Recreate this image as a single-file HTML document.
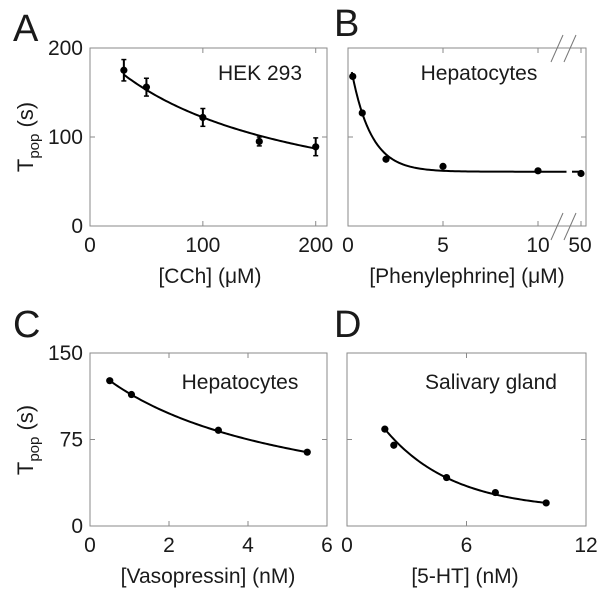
<!DOCTYPE html>
<html><head><meta charset="utf-8">
<style>
body{margin:0;background:#fff;}
svg{display:block;font-family:"Liberation Sans",Arial,sans-serif;}
</style></head>
<body>
<svg id="fig" width="600" height="590" viewBox="0 0 600 590" xmlns="http://www.w3.org/2000/svg"></svg>
<script>
// Panel A data
const aX=[30,50,100,150,200];
const aY=[175,156,122,95,89];
const aErr=[12,10,10,5,10];
const aFit=[204.5,148]; // a/(1+x/K)
const aXTicks=[0,100,200];
const aYTicks=[0,100,200];
// Panel B data
const bX=[0.25,0.75,2,5,10];
const bY=[168,127,75,67,62];
const bXBreak=[50];
const bYBreak=[59];
const bFit=[61,136,1.03]; // a+b*exp(-x/c)
const bXTicks=["0","5","10"];
const bXTickVals=[0,5,10];
// Panel C data
const cX=[0.5,1.05,3.25,5.5];
const cY=[126,114,83,64];
const cFit=[139.5,4.66];
const cXTicks=[0,2,4,6];
const cYTicks=[0,75,150];
// Panel D data
const dX=[1.9,2.35,5,7.45,10];
const dY=[84,70,42,29,20];
const dFit=[13.5,123.3,3.4];
const dXTicks=[0,6,12];

const svg=document.getElementById('fig');
const NS='http://www.w3.org/2000/svg';
function mk(tag,attrs,parent){const e=document.createElementNS(NS,tag);for(const k in attrs)e.setAttribute(k,attrs[k]);(parent||svg).appendChild(e);return e;}
function txt(s,x,y,size,anchor,name,parent){const t=mk('text',{x:x,y:y,'font-size':size,'text-anchor':anchor||'middle',fill:'#1a1a1a'},parent);t.textContent=s;


return t;}
function lin(d0,d1,r0,r1){return v=>r0+(v-d0)*(r1-r0)/(d1-d0);}

function panel(o){
  const g=mk('g',{});
  
  
  const r=mk('rect',{x:o.l,y:o.t,width:o.r-o.l,height:o.b-o.t,fill:'none',stroke:'#8a8a8a','stroke-width':1},g);
  
  
  return g;
}
function ticksX(g,vals,labels,sx,t,b,drawInner){
  vals.forEach((v,i)=>{const x=sx(v);
    if(drawInner){mk('line',{x1:x,x2:x,y1:b,y2:b-5,stroke:'#8a8a8a'},g);mk('line',{x1:x,x2:x,y1:t,y2:t+5,stroke:'#8a8a8a'},g);}
    txt(labels[i],x,b+26,21,'middle','x-tick-label',g);});
}
function ticksY(g,vals,sy,l,r,lblX){
  vals.forEach(v=>{const y=sy(v);
    mk('line',{x1:l,x2:l+5,y1:y,y2:y,stroke:'#8a8a8a'},g);mk('line',{x1:r,x2:r-5,y1:y,y2:y,stroke:'#8a8a8a'},g);
    if(lblX)txt(String(v),lblX,y+7,21,'end','y-tick-label',g);});
}
function curve(g,f,x0,x1,sx,sy,name){
  let d='';for(let i=0;i<=100;i++){const x=x0+(x1-x0)*i/100;d+=(i?'L':'M')+sx(x).toFixed(2)+','+sy(f(x)).toFixed(2);}
  const p=mk('path',{d:d,fill:'none',stroke:'#000','stroke-width':2},g);
  
  
}
function dots(g,xs,ys,sx,sy){
  xs.forEach((x,i)=>{const c=mk('circle',{cx:sx(x),cy:sy(ys[i]),r:3.6,fill:'#000'},g);
  
  });
}
function yTitle(x,y){
  const t=mk('text',{transform:`translate(${x},${y}) rotate(-90)`,'font-size':22,'text-anchor':'middle',fill:'#1a1a1a'});
  
  
  t.innerHTML='T<tspan font-size="15" dy="6">pop</tspan><tspan dy="-6"> (s)</tspan>';
}

// ---- Panel A
{const L=90,R=327,T=48,B=226;const g=panel({name:'panel-a',l:L,r:R,t:T,b:B});
 const sx=lin(0,210,L,R), sy=lin(0,200,B,T);
 ticksX(g,aXTicks,aXTicks.map(String),sx,T,B,true);ticksY(g,aYTicks,sy,L,R,83);
 curve(g,x=>aFit[0]/(1+x/aFit[1]),aX[0],aX[aX.length-1],sx,sy,'fit-curve-a');
 aX.forEach((x,i)=>{const px=sx(x);mk('line',{x1:px,x2:px,y1:sy(aY[i]+aErr[i]),y2:sy(aY[i]-aErr[i]),stroke:'#000','stroke-width':2},g);
   mk('line',{x1:px-2.5,x2:px+2.5,y1:sy(aY[i]+aErr[i]),y2:sy(aY[i]+aErr[i]),stroke:'#000','stroke-width':1.5},g);
   mk('line',{x1:px-2.5,x2:px+2.5,y1:sy(aY[i]-aErr[i]),y2:sy(aY[i]-aErr[i]),stroke:'#000','stroke-width':1.5},g);});
 dots(g,aX,aY,sx,sy);
 txt('HEK 293',260,80,21,'middle','cell-type-label',g);
 txt('[CCh] (\u03bcM)',210,283,21,'middle','x-axis-title',g);
 txt('A',13,41,38,'start','panel-label-a',g);
 yTitle(33,137);
}
// ---- Panel B
{const L=348,R=586,T=48,B=226;const g=panel({name:'panel-b',l:L,r:R,t:T,b:B});
 const sx=lin(0,10,L,538), sy=lin(0,200,B,T);
 const sxb=lin(48,50,572,581);
 ticksX(g,bXTickVals,bXTicks,sx,T,B,true);
 mk('line',{x1:581,x2:581,y1:B,y2:B-5,stroke:'#8a8a8a'},g);mk('line',{x1:581,x2:581,y1:T,y2:T+5,stroke:'#8a8a8a'},g);
 txt('50',580,B+26,21,'middle','x-tick-label',g);
 ticksY(g,[0,100,200],sy,L,R,null);
 curve(g,x=>bFit[0]+bFit[1]*Math.exp(-x/bFit[2]),0.2,11.5,sx,sy,'fit-curve-b');
 curve(g,x=>bFit[0],48,49.6,sxb,sy,'fit-curve-b-after-break');
 dots(g,bX,bY,sx,sy);dots(g,bXBreak,bYBreak,sxb,sy);
 [[551,62,563,35],[564,62,576,35],[551,240,563,213],[564,240,576,213]].forEach(s=>{
   const ln=mk('line',{x1:s[0],y1:s[1],x2:s[2],y2:s[3],stroke:'#777','stroke-width':1},g);
   
   });
 txt('Hepatocytes',479,80,21,'middle','cell-type-label',g);
 txt('[Phenylephrine] (\u03bcM)',467,283,21,'middle','x-axis-title',g);
 txt('B',334,36,38,'start','panel-label-b',g);
}
// ---- Panel C
{const L=90,R=327,T=353,B=526;const g=panel({name:'panel-c',l:L,r:R,t:T,b:B});
 const sx=lin(0,6,L,R), sy=lin(0,150,B,T);
 ticksX(g,cXTicks,cXTicks.map(String),sx,T,B,true);ticksY(g,cYTicks,sy,L,R,83);
 curve(g,x=>cFit[0]/(1+x/cFit[1]),cX[0],cX[cX.length-1],sx,sy,'fit-curve-c');
 dots(g,cX,cY,sx,sy);
 txt('Hepatocytes',240,389,21,'middle','cell-type-label',g);
 txt('[Vasopressin] (nM)',208,583,21,'middle','x-axis-title',g);
 txt('C',13,337,38,'start','panel-label-c',g);
 yTitle(33,440);
}
// ---- Panel D
{const L=347,R=586,T=353,B=526;const g=panel({name:'panel-d',l:L,r:R,t:T,b:B});
 const sx=lin(0,12,L,R), sy=lin(0,150,B,T);
 ticksX(g,dXTicks,dXTicks.map(String),sx,T,B,true);ticksY(g,[75],sy,L,R,null);
 curve(g,x=>dFit[0]+dFit[1]*Math.exp(-x/dFit[2]),dX[0],dX[dX.length-1],sx,sy,'fit-curve-d');
 dots(g,dX,dY,sx,sy);
 txt('Salivary gland',491,389,21,'middle','cell-type-label',g);
 txt('[5-HT] (nM)',465,583,21,'middle','x-axis-title',g);
 txt('D',334,337,38,'start','panel-label-d',g);
}
</script>
</body></html>
